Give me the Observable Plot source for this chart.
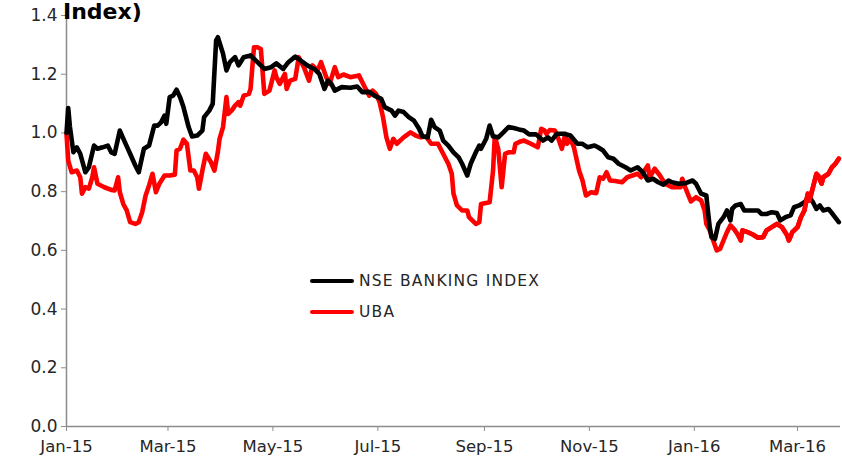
<!DOCTYPE html>
<html>
<head>
<meta charset="utf-8">
<script src="https://cdn.jsdelivr.net/npm/d3@7"></script>
<script src="https://cdn.jsdelivr.net/npm/@observablehq/plot@0.6"></script>
<style>
  html, body { margin: 0; padding: 0; background: #fff; }
  #wrap { position: relative; width: 842px; height: 459px; overflow: hidden; font-family: "DejaVu Sans", sans-serif; }
  #title { position: absolute; left: 63px; top: 1px; font-size: 22px; font-weight: bold; line-height: 22px; color: #000; white-space: nowrap; }
  .leg { position: absolute; display: flex; align-items: center; font-size: 15.5px; letter-spacing: 1.2px; color: #262626; white-space: nowrap; }
  .leg span.sw { display: inline-block; width: 44px; height: 4.5px; border-radius: 3px; margin-right: 5px; }
</style>
</head>
<body>
<div id="wrap">
  <div id="chart"></div>
  <div id="title">Index)</div>
  <div class="leg" style="left:310px; top:272px;"><span class="sw" style="background:#000"></span>NSE BANKING INDEX</div>
  <div class="leg" style="left:310px; top:303px;"><span class="sw" style="background:#ff0000"></span>UBA</div>
</div>
<script>
const seriesNames = ["NSE BANKING INDEX", "UBA"];
const xTickDates = ["2015-01-01","2015-03-01","2015-05-01","2015-07-01","2015-09-01","2015-11-01","2016-01-01","2016-03-01"];
const yTicks = [0, 0.2, 0.4, 0.6, 0.8, 1.0, 1.2, 1.4];

const nseDates = ["2015-01-01","2015-01-02","2015-01-03","2015-01-05","2015-01-07","2015-01-09","2015-01-12","2015-01-14","2015-01-17","2015-01-19","2015-01-22","2015-01-25","2015-01-27","2015-01-29","2015-02-01","2015-02-04","2015-02-07","2015-02-10","2015-02-12","2015-02-15","2015-02-18","2015-02-21","2015-02-23","2015-02-25","2015-02-27","2015-02-28","2015-03-02","2015-03-04","2015-03-06","2015-03-08","2015-03-10","2015-03-13","2015-03-15","2015-03-18","2015-03-21","2015-03-22","2015-03-25","2015-03-27","2015-03-29","2015-03-30","2015-04-02","2015-04-04","2015-04-06","2015-04-09","2015-04-11","2015-04-14","2015-04-18","2015-04-22","2015-04-26","2015-04-30","2015-05-03","2015-05-07","2015-05-10","2015-05-14","2015-05-17","2015-05-21","2015-05-25","2015-05-28","2015-05-31","2015-06-02","2015-06-04","2015-06-06","2015-06-10","2015-06-15","2015-06-19","2015-06-22","2015-06-26","2015-06-29","2015-07-03","2015-07-05","2015-07-09","2015-07-11","2015-07-13","2015-07-16","2015-07-19","2015-07-22","2015-07-25","2015-07-27","2015-07-30","2015-08-01","2015-08-03","2015-08-06","2015-08-08","2015-08-11","2015-08-14","2015-08-17","2015-08-19","2015-08-22","2015-08-24","2015-08-27","2015-08-29","2015-08-30","2015-09-02","2015-09-04","2015-09-06","2015-09-09","2015-09-12","2015-09-15","2015-09-18","2015-09-21","2015-09-24","2015-09-27","2015-10-01","2015-10-05","2015-10-08","2015-10-10","2015-10-13","2015-10-17","2015-10-21","2015-10-25","2015-10-28","2015-10-31","2015-11-04","2015-11-06","2015-11-09","2015-11-12","2015-11-15","2015-11-18","2015-11-22","2015-11-25","2015-11-29","2015-12-02","2015-12-05","2015-12-08","2015-12-11","2015-12-14","2015-12-17","2015-12-19","2015-12-23","2015-12-27","2015-12-31","2016-01-02","2016-01-05","2016-01-08","2016-01-09","2016-01-10","2016-01-11","2016-01-13","2016-01-15","2016-01-18","2016-01-20","2016-01-22","2016-01-23","2016-01-25","2016-01-28","2016-01-30","2016-02-04","2016-02-07","2016-02-09","2016-02-12","2016-02-15","2016-02-18","2016-02-20","2016-02-23","2016-02-26","2016-02-28","2016-03-02","2016-03-05","2016-03-08","2016-03-10","2016-03-12","2016-03-14","2016-03-16","2016-03-19","2016-03-21","2016-03-25"];
const nseValues = [1.00,1.085,1.02,0.934,0.951,0.929,0.866,0.883,0.957,0.946,0.951,0.957,0.934,0.929,1.008,0.968,0.929,0.889,0.866,0.946,0.957,1.025,1.025,1.036,1.059,1.031,1.122,1.127,1.147,1.122,1.088,1.02,0.988,0.991,1.008,1.054,1.076,1.099,1.315,1.326,1.27,1.213,1.241,1.258,1.23,1.258,1.264,1.241,1.218,1.224,1.237,1.218,1.241,1.26,1.247,1.23,1.218,1.201,1.15,1.178,1.167,1.144,1.156,1.154,1.158,1.139,1.14,1.127,1.116,1.088,1.076,1.059,1.076,1.071,1.054,1.042,1.014,0.988,0.985,1.045,1.02,1.008,0.974,0.957,0.934,0.917,0.895,0.855,0.895,0.934,0.957,0.946,0.98,1.025,0.988,0.985,1.002,1.02,1.017,1.012,1.008,0.995,0.995,0.974,0.985,0.974,0.997,0.997,0.991,0.963,0.963,0.951,0.957,0.951,0.94,0.917,0.912,0.895,0.883,0.872,0.883,0.866,0.838,0.844,0.832,0.824,0.838,0.832,0.827,0.829,0.838,0.827,0.793,0.787,0.73,0.679,0.645,0.639,0.69,0.713,0.736,0.702,0.741,0.753,0.758,0.736,0.736,0.736,0.724,0.724,0.73,0.727,0.702,0.713,0.719,0.747,0.753,0.764,0.781,0.764,0.741,0.753,0.736,0.741,0.727,0.696];

const ubaDates = ["2015-01-01","2015-01-02","2015-01-04","2015-01-07","2015-01-09","2015-01-10","2015-01-12","2015-01-14","2015-01-16","2015-01-17","2015-01-19","2015-01-23","2015-01-27","2015-01-29","2015-01-31","2015-02-01","2015-02-03","2015-02-05","2015-02-07","2015-02-10","2015-02-12","2015-02-14","2015-02-16","2015-02-18","2015-02-20","2015-02-22","2015-02-24","2015-02-27","2015-03-02","2015-03-05","2015-03-06","2015-03-08","2015-03-10","2015-03-12","2015-03-14","2015-03-16","2015-03-18","2015-03-19","2015-03-21","2015-03-23","2015-03-26","2015-03-28","2015-03-30","2015-03-31","2015-04-02","2015-04-04","2015-04-05","2015-04-07","2015-04-09","2015-04-11","2015-04-12","2015-04-14","2015-04-17","2015-04-18","2015-04-20","2015-04-22","2015-04-24","2015-04-26","2015-04-29","2015-05-02","2015-05-03","2015-05-05","2015-05-08","2015-05-09","2015-05-11","2015-05-14","2015-05-16","2015-05-19","2015-05-22","2015-05-24","2015-05-27","2015-05-29","2015-06-01","2015-06-03","2015-06-06","2015-06-08","2015-06-11","2015-06-15","2015-06-20","2015-06-23","2015-06-26","2015-06-28","2015-06-30","2015-07-02","2015-07-04","2015-07-06","2015-07-08","2015-07-10","2015-07-12","2015-07-16","2015-07-20","2015-07-23","2015-07-26","2015-07-29","2015-08-01","2015-08-05","2015-08-07","2015-08-11","2015-08-13","2015-08-14","2015-08-16","2015-08-19","2015-08-22","2015-08-23","2015-08-27","2015-08-29","2015-08-30","2015-09-04","2015-09-06","2015-09-07","2015-09-09","2015-09-11","2015-09-12","2015-09-13","2015-09-15","2015-09-18","2015-09-19","2015-09-22","2015-09-24","2015-09-28","2015-10-02","2015-10-04","2015-10-06","2015-10-07","2015-10-09","2015-10-12","2015-10-14","2015-10-16","2015-10-18","2015-10-19","2015-10-21","2015-10-23","2015-10-26","2015-10-28","2015-10-30","2015-11-02","2015-11-05","2015-11-07","2015-11-09","2015-11-11","2015-11-13","2015-11-16","2015-11-20","2015-11-23","2015-11-26","2015-11-29","2015-12-01","2015-12-03","2015-12-05","2015-12-06","2015-12-09","2015-12-12","2015-12-15","2015-12-19","2015-12-24","2015-12-25","2015-12-27","2015-12-30","2016-01-02","2016-01-05","2016-01-07","2016-01-08","2016-01-10","2016-01-12","2016-01-14","2016-01-16","2016-01-18","2016-01-20","2016-01-22","2016-01-24","2016-01-26","2016-01-28","2016-01-29","2016-02-01","2016-02-04","2016-02-07","2016-02-10","2016-02-12","2016-02-15","2016-02-18","2016-02-21","2016-02-24","2016-02-25","2016-02-27","2016-03-01","2016-03-03","2016-03-05","2016-03-07","2016-03-08","2016-03-10","2016-03-12","2016-03-13","2016-03-15","2016-03-16","2016-03-19","2016-03-21","2016-03-23","2016-03-25"];
const ubaValues = [0.997,0.906,0.866,0.872,0.849,0.793,0.815,0.81,0.849,0.883,0.827,0.815,0.806,0.804,0.849,0.798,0.758,0.736,0.696,0.69,0.696,0.73,0.787,0.821,0.861,0.798,0.827,0.855,0.855,0.858,0.94,0.946,0.977,0.963,0.872,0.872,0.849,0.81,0.872,0.929,0.9,0.872,0.935,0.98,1.02,1.122,1.065,1.076,1.093,1.105,1.093,1.127,1.133,1.15,1.292,1.292,1.286,1.133,1.144,1.213,1.19,1.167,1.201,1.15,1.178,1.184,1.258,1.224,1.178,1.23,1.213,1.241,1.19,1.167,1.224,1.19,1.199,1.19,1.196,1.161,1.127,1.144,1.133,1.105,1.054,0.985,0.946,0.98,0.963,0.985,1.002,0.991,0.985,0.988,0.963,0.963,0.94,0.895,0.861,0.793,0.753,0.736,0.736,0.713,0.69,0.696,0.758,0.764,0.872,0.988,0.946,0.815,0.872,0.929,0.934,0.934,0.963,0.971,0.974,0.963,0.951,1.014,1.008,0.997,1.01,1.008,0.98,0.946,0.997,0.963,0.98,0.951,0.872,0.838,0.787,0.798,0.795,0.849,0.844,0.866,0.838,0.836,0.832,0.849,0.855,0.861,0.849,0.872,0.889,0.849,0.878,0.855,0.827,0.815,0.815,0.844,0.81,0.767,0.781,0.77,0.736,0.69,0.668,0.634,0.6,0.605,0.634,0.662,0.685,0.673,0.656,0.634,0.668,0.662,0.654,0.643,0.645,0.668,0.679,0.69,0.679,0.651,0.634,0.662,0.679,0.713,0.736,0.793,0.77,0.815,0.861,0.855,0.827,0.849,0.861,0.883,0.895,0.912];

const parse = d3.utcParse("%Y-%m-%d");
const nse = nseDates.map((d, i) => ({date: parse(d), value: nseValues[i], series: seriesNames[0]}));
const uba = ubaDates.map((d, i) => ({date: parse(d), value: ubaValues[i], series: seriesNames[1]}));
const xTicks = xTickDates.map(parse);

const axisColor = "#8c8c8c";
const lineOpts = {x: "date", y: "value", strokeWidth: 4.6, strokeLinejoin: "round", strokeLinecap: "round"};
const chart = Plot.plot({
  width: 842,
  height: 459,
  marginLeft: 66,
  marginRight: 2,
  marginTop: 15,
  marginBottom: 33,
  style: {fontFamily: "DejaVu Sans, sans-serif", fontSize: "16.5px", color: "#262626", background: "#fff"},
  x: {type: "utc", domain: [parse("2015-01-01"), parse("2016-03-26")]},
  y: {domain: [0, 1.4]},
  marks: [
    Plot.axisX({ticks: xTicks, tickFormat: d3.utcFormat("%b-%y"), tickSize: 5, tickPadding: 9, stroke: axisColor, fill: "#262626", fontSize: 16.5, label: null}),
    Plot.axisY({ticks: yTicks, tickFormat: d3.format(".1f"), tickSize: 5, tickPadding: 4, stroke: axisColor, fill: "#262626", fontSize: 17, label: null}),
    Plot.ruleY([0], {stroke: axisColor, strokeWidth: 1.5}),
    Plot.ruleX([parse("2015-01-01")], {stroke: axisColor, strokeWidth: 1.5}),
    Plot.line(uba, {...lineOpts, stroke: "#ff0000"}),
    Plot.line(nse, {...lineOpts, stroke: "#000000"}),
    Plot.line(uba.filter(d => d.date >= parse("2016-01-28")), {...lineOpts, stroke: "#ff0000"})
  ]
});
document.getElementById("chart").appendChild(chart);
</script>
</body>
</html>
